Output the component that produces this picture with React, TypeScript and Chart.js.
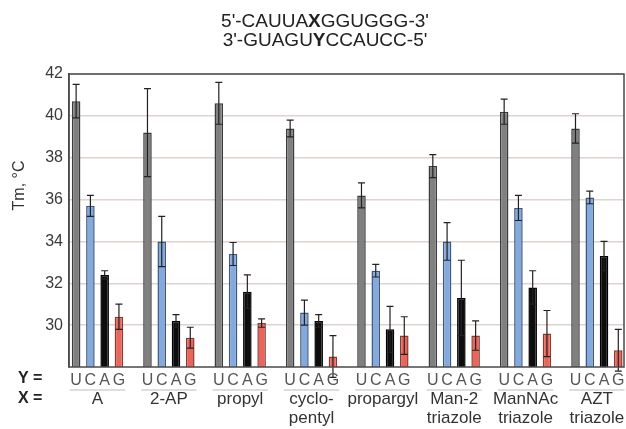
import React, { useEffect, useRef } from "react";
import { Chart, registerables } from "chart.js";

Chart.register(...registerables);

const groupLabels: string[][] = [
  ["A"],
  ["2-AP"],
  ["propyl"],
  ["cyclo-", "pentyl"],
  ["propargyl"],
  ["Man-2", "triazole"],
  ["ManNAc", "triazole"],
  ["AZT", "triazole"],
];
const seriesNames = ["U", "C", "A", "G"];
const uValues = [40.7, 39.2, 40.6, 39.4, 36.2, 37.6, 40.2, 39.4];
const uErrors = [0.8, 2.1, 1.0, 0.4, 0.6, 0.55, 0.6, 0.7];
const cValues = [35.7, 34.0, 33.4, 30.6, 32.6, 34.0, 35.6, 36.1];
const cErrors = [0.5, 1.2, 0.55, 0.6, 0.3, 0.9, 0.6, 0.3];
const aValues = [32.4, 30.2, 31.6, 30.2, 29.8, 31.3, 31.8, 33.3];
const aErrors = [0.2, 0.3, 0.8, 0.3, 1.1, 1.8, 0.8, 0.7];
const gValues = [30.4, 29.4, 30.1, 28.5, 29.5, 29.5, 29.6, 28.8];
const gErrors = [0.6, 0.5, 0.2, 1.0, 0.9, 0.7, 1.1, 1.0];
const yTicks = [30, 32, 34, 36, 38, 40, 42];
const titleLines: [string, boolean][][] = [
  [["5'-CAUUA", false], ["X", true], ["GGUGGG-3'", false]],
  [["3'-GUAGU", false], ["Y", true], ["CCAUCC-5'", false]],
];
const yTitle = "Tm, °C";

const allValues = [uValues, cValues, aValues, gValues];
const allErrors = [uErrors, cErrors, aErrors, gErrors];
const fills = ["#808080", "#84a9dd", "#0d0d0d", "#e9675a"];
const borders = ["#3c3c3c", "#3f5878", "#000000", "#8b3a33"];

const FONT = "'Liberation Sans', Arial, sans-serif";

const decorPlugin = {
  id: "decor",
  afterDatasetsDraw(chart: any) {
    const ctx = chart.ctx;
    const y = chart.scales.y;
    const area = chart.chartArea;
    // error bars
    ctx.save();
    ctx.strokeStyle = "#222";
    ctx.lineWidth = 1.2;
    allErrors.forEach((errs, i) => {
      const meta = chart.getDatasetMeta(i);
      meta.data.forEach((bar: any, j: number) => {
        const v = allValues[i][j];
        const e = errs[j];
        const yt = y.getPixelForValue(v + e);
        const yb = y.getPixelForValue(v - e);
        const x = bar.x;
        ctx.beginPath();
        ctx.moveTo(x, yt);
        ctx.lineTo(x, yb);
        ctx.moveTo(x - 3.5, yt);
        ctx.lineTo(x + 3.5, yt);
        ctx.moveTo(x - 3.5, yb);
        ctx.lineTo(x + 3.5, yb);
        ctx.stroke();
      });
    });
    // frame
    ctx.strokeStyle = "#4a4a4a";
    ctx.lineWidth = 1.5;
    ctx.strokeRect(area.left, area.top, area.right - area.left, area.bottom - area.top);
    ctx.restore();
  },
  afterDraw(chart: any) {
    const ctx = chart.ctx;
    const xs = chart.scales.x;
    const area = chart.chartArea;
    ctx.save();
    // title
    ctx.fillStyle = "#222";
    ctx.textBaseline = "middle";
    ctx.textAlign = "left";
    const cx = 325;
    titleLines.forEach((segs, li) => {
      let total = 0;
      const widths = segs.map(([t, b]) => {
        ctx.font = `${b ? "bold " : ""}19px ${FONT}`;
        const w = ctx.measureText(t).width;
        total += w;
        return w;
      });
      let x = cx - total / 2;
      segs.forEach(([t, b], k) => {
        ctx.font = `${b ? "bold " : ""}19px ${FONT}`;
        ctx.fillText(t, x, 22 + li * 19);
        x += widths[k];
      });
    });
    // y title
    ctx.save();
    ctx.translate(20, (area.top + area.bottom) / 2 - 35);
    ctx.rotate(-Math.PI / 2);
    ctx.textAlign = "center";
    ctx.font = `16px ${FONT}`;
    ctx.fillStyle = "#333";
    ctx.fillText(yTitle, 0, 0);
    ctx.restore();
    // Y = / X =
    ctx.font = `bold 16px ${FONT}`;
    ctx.fillStyle = "#222";
    ctx.textAlign = "left";
    ctx.fillText("Y =", 18, 379);
    ctx.fillText("X =", 18, 399);
    // letters and names
    groupLabels.forEach((lines, j) => {
      let minX = Infinity;
      let maxX = -Infinity;
      ctx.font = `16px ${FONT}`;
      ctx.fillStyle = "#555";
      ctx.textAlign = "center";
      seriesNames.forEach((s, i) => {
        const bar: any = chart.getDatasetMeta(i).data[j];
        ctx.fillText(s, bar.x, 381);
        minX = Math.min(minX, bar.x - bar.width / 2);
        maxX = Math.max(maxX, bar.x + bar.width / 2);
      });
      ctx.strokeStyle = "#bbb";
      ctx.lineWidth = 1;
      ctx.beginPath();
      ctx.moveTo(minX - 2, 390);
      ctx.lineTo(maxX + 2, 390);
      ctx.stroke();
      ctx.font = `17px ${FONT}`;
      ctx.fillStyle = "#333";
      const gx = xs.getPixelForValue(j);
      lines.forEach((t, li) => {
        ctx.fillText(t, gx, 399 + li * 19);
      });
    });
    ctx.restore();
  },
};

export default function App() {
  const ref = useRef<HTMLCanvasElement | null>(null);
  useEffect(() => {
    if (!ref.current) return;
    const chart = new Chart(ref.current, {
      type: "bar",
      data: {
        datasets: allValues.map((vals, i) => ({
          label: seriesNames[i],
          data: vals.map((v, j) => ({ x: j, y: v })),
          backgroundColor: fills[i],
          borderColor: borders[i],
          borderWidth: 1.5,
          borderSkipped: "bottom",
          categoryPercentage: 0.8,
          barPercentage: 0.6,
        })),
      },
      options: {
        animation: false,
        responsive: false,
        layout: { padding: { top: 74, bottom: 62, left: 0, right: 2 } },
        plugins: { legend: { display: false }, tooltip: { enabled: false } },
        scales: {
          x: {
            type: "linear",
            display: false,
            min: -0.4,
            max: 7.38,
            offset: false,
          },
          y: {
            min: 28,
            max: 42,
            afterBuildTicks: (scale: any) => {
              scale.ticks = yTicks.map((v) => ({ value: v }));
            },
            afterFit: (scale: any) => {
              scale.width = 69;
            },
            grid: { color: "#ddd4cf", lineWidth: 1.5, drawTicks: false },
            border: { display: true, color: "#4a4a4a", width: 1.5 },
            ticks: {
              padding: 6,
              color: "#3a3a3a",
              font: { family: FONT, size: 16 },
            },
          },
        },
      },
      plugins: [decorPlugin],
    });
    return () => chart.destroy();
  }, []);
  return (
    <div style={{ position: "fixed", left: 0, top: 0, width: 626, height: 429, background: "#fff" }}>
      <canvas ref={ref} width={626} height={429} style={{ width: 626, height: 429 }} />
    </div>
  );
}
